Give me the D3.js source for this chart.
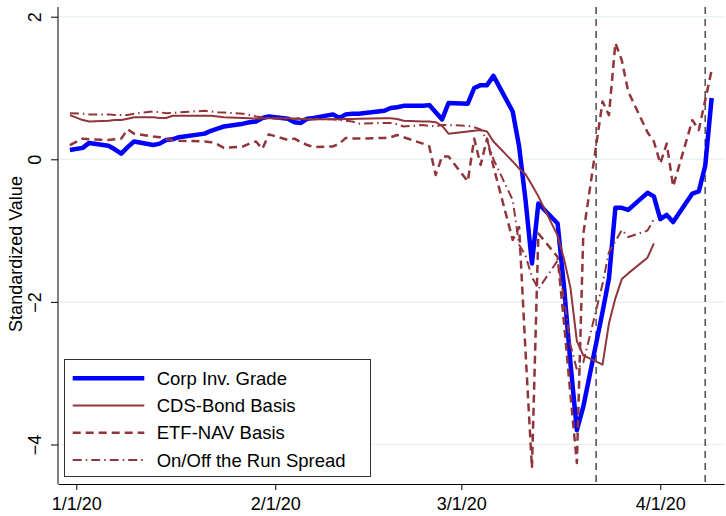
<!DOCTYPE html>
<html>
<head>
<meta charset="utf-8">
<script src="https://cdn.jsdelivr.net/npm/d3@7"></script>
<style>
  html, body { margin: 0; padding: 0; background: #fff; }
  svg { display: block; font-family: "Liberation Sans", Arial, sans-serif; }
</style>
</head>
<body>
<svg id="chart" width="726" height="516"></svg>
<script>
// trading days shown in the chart
const dates = [
  "2019-12-31",
  "2020-01-02","2020-01-03","2020-01-06","2020-01-07","2020-01-08","2020-01-09","2020-01-10",
  "2020-01-13","2020-01-14","2020-01-15","2020-01-16","2020-01-17","2020-01-21","2020-01-22",
  "2020-01-23","2020-01-24","2020-01-27","2020-01-28","2020-01-29","2020-01-30","2020-01-31",
  "2020-02-03","2020-02-04","2020-02-05","2020-02-06","2020-02-07","2020-02-10","2020-02-11",
  "2020-02-12","2020-02-13","2020-02-14","2020-02-18","2020-02-19","2020-02-20","2020-02-21",
  "2020-02-24","2020-02-25","2020-02-26","2020-02-27","2020-02-28",
  "2020-03-02","2020-03-03","2020-03-04","2020-03-05","2020-03-06","2020-03-09","2020-03-10",
  "2020-03-11","2020-03-12","2020-03-13","2020-03-16","2020-03-17","2020-03-18","2020-03-19",
  "2020-03-20","2020-03-23","2020-03-24","2020-03-25","2020-03-26","2020-03-27","2020-03-30",
  "2020-03-31",
  "2020-04-01","2020-04-02","2020-04-03","2020-04-06","2020-04-07","2020-04-08","2020-04-09"
];

const corpIG = [
  0.13,
  0.16,0.23,0.19,0.14,0.08,0.17,0.25,0.20,0.22,0.27,0.28,0.31,0.36,0.40,0.43,0.46,0.50,0.52,0.53,0.58,0.60,
  0.57,0.52,0.51,0.57,0.58,0.63,0.58,0.63,0.64,0.64,0.68,0.72,0.73,0.75,0.75,0.76,0.66,0.56,0.79,
  0.78,1.00,1.04,1.04,1.17,0.67,0.18,-0.57,-1.46,-0.62,-0.90,-1.79,-2.86,-3.80,-3.47,-2.14,-1.67,-0.68,-0.68,-0.71,-0.47,-0.52,
  -0.84,-0.78,-0.88,-0.48,-0.45,-0.09,0.86
];

const cdsBond = [
  0.62,
  0.55,0.53,0.54,0.55,0.55,0.57,0.59,0.59,0.58,0.58,0.61,0.61,0.61,0.61,0.60,0.59,0.58,0.575,0.57,0.575,0.575,
  0.575,0.57,0.565,0.56,0.56,0.56,0.56,0.565,0.565,0.57,0.575,0.575,0.565,0.54,0.53,0.53,0.52,0.47,0.36,
  0.39,0.40,0.41,0.39,0.25,-0.03,-0.13,-0.21,-0.36,-0.52,-1.07,-1.40,-1.80,-2.55,-2.75,-2.88,-2.30,-1.95,-1.68,-1.60,-1.38,-1.18,
  null,null,null,null,null,null,null
];

const etfNav = [
  0.20,
  0.29,0.28,0.27,0.28,0.29,0.42,0.36,0.32,0.31,0.28,0.27,0.26,0.25,0.24,0.21,0.16,0.18,0.22,0.25,0.145,0.35,
  0.27,0.29,0.24,0.20,0.17,0.18,0.22,0.30,0.29,0.29,0.30,0.31,0.34,0.31,0.22,0.18,-0.22,0.04,0.04,
  -0.31,0.29,-0.08,0.29,-0.10,-1.13,-0.95,-2.70,-4.33,-1.04,-1.37,-2.30,-3.30,-4.26,-1.05,0.81,0.62,1.63,1.39,0.95,0.38,0.25,
  -0.06,0.22,-0.38,0.55,0.41,0.83,1.25
];

const onOffRun = [
  0.645,
  0.64,0.63,0.63,0.62,0.62,0.62,0.64,0.67,0.66,0.645,0.65,0.66,0.68,0.67,0.66,0.655,0.64,0.62,0.60,0.59,0.58,
  0.56,0.57,0.58,0.57,0.56,0.56,0.55,0.54,0.53,0.50,0.51,0.51,0.49,0.46,0.48,0.47,0.46,0.48,0.48,
  0.47,0.45,0.42,0.27,0.00,-0.57,-1.20,-1.35,-1.65,-1.82,-1.42,-1.95,-2.60,-2.95,-2.85,-1.75,-1.30,-1.15,-0.99,-1.09,-1.00,-0.84,
  null,null,null,null,null,null,null
];

const seriesNames = ["Corp Inv. Grade", "CDS-Bond Basis", "ETF-NAV Basis", "On/Off the Run Spread"];
const xTickLabels = ["2020-01-01", "2020-02-01", "2020-03-01", "2020-04-01"];
const yTicks = [2, 0, -2, -4];
const markerDates = ["2020-03-22", "2020-04-08"];

const parse = d3.utcParse("%Y-%m-%d");
const fmt = d3.utcFormat("%-m/%-d/%y");

const svg = d3.select("#chart");
const plotLeft = 58, plotRight = 724, plotTop = 7, plotBottom = 484;

// Jan 1 and Apr 1 sit at fixed spots, then the scale is stretched to the frame
var x = d3.scaleUtc()
    .domain([parse("2020-01-01"), parse("2020-04-01")])
    .range([76.3, 660.3]);
x.domain([x.invert(plotLeft), x.invert(plotRight)]).range([plotLeft, plotRight]);

var y = d3.scaleLinear()
    .domain([2, -4])
    .range([16.7, 444.5]);

// grid
svg.append("g").selectAll("line")
    .data(yTicks)
    .enter().append("line")
      .attr("x1", plotLeft).attr("x2", plotRight)
      .attr("y1", d => y(d)).attr("y2", d => y(d))
      .attr("stroke", "#eaf2f3")
      .attr("stroke-width", 1.5);

// vertical event lines
svg.append("g").selectAll("line")
    .data(markerDates.map(parse))
    .enter().append("line")
      .attr("x1", d => x(d)).attr("x2", d => x(d))
      .attr("y1", plotTop).attr("y2", plotBottom)
      .attr("stroke", "#555")
      .attr("stroke-width", 1.6)
      .attr("stroke-dasharray", "7,5");

// axes
var xAxis = d3.axisBottom(x)
    .tickValues(xTickLabels.map(parse))
    .tickFormat(fmt)
    .tickSize(6)
    .tickSizeOuter(0);

var gx = svg.append("g")
    .attr("transform", "translate(0," + plotBottom + ")")
    .call(xAxis);
gx.select(".domain").attr("stroke", "#000");
gx.selectAll(".tick line").attr("stroke", "#000");
gx.selectAll(".tick text")
    .attr("y", 13)
    .attr("dy", "0.71em")
    .attr("fill", "#000")
    .style("font-size", "18px")
    .style("font-family", "Liberation Sans, Arial, sans-serif");

var gy = svg.append("g")
    .attr("transform", "translate(" + plotLeft + ",0)")
    .call(d3.axisLeft(y).tickValues(yTicks).tickSize(7).tickSizeOuter(0).tickFormat(d3.format("d")));
gy.select(".domain").attr("d", "M0," + plotTop + "V" + plotBottom);
gy.selectAll(".tick line").attr("stroke", "#000");
gy.selectAll(".tick text").remove();
gy.selectAll(".tick").append("text")
    .attr("transform", "translate(-17,0) rotate(-90)")
    .attr("text-anchor", "middle")
    .attr("fill", "#000")
    .style("font-size", "18px")
    .style("font-family", "Liberation Sans, Arial, sans-serif")
    .text(d => d3.format("d")(d));

svg.append("text")
    .attr("transform", "translate(21.5,254) rotate(-90)")
    .attr("text-anchor", "middle")
    .style("font-size", "18px")
    .text("Standardized Value");

// series
var maroon = "rgb(144,53,59)";
var styles = [
  { values: corpIG,   color: "rgb(0,0,255)", width: 4.5, dash: null },
  { values: cdsBond,  color: maroon, width: 2, dash: null },
  { values: etfNav,   color: maroon, width: 2.5, dash: "8,5" },
  { values: onOffRun, color: maroon, width: 2, dash: "9,4,1.5,4" }
];

var line = d3.line()
    .defined(d => d.v != null)
    .x(d => x(d.date))
    .y(d => y(d.v));

styles.forEach(function (s) {
  var pts = dates.map(function (d, i) { return { date: parse(d), v: s.values[i] }; });
  svg.append("path")
      .datum(pts)
      .attr("d", line)
      .attr("fill", "none")
      .attr("stroke", s.color)
      .attr("stroke-width", s.width)
      .attr("stroke-linejoin", "round")
      .attr("stroke-dasharray", s.dash);
});

// legend
var legend = svg.append("g");
legend.append("rect")
    .attr("x", 64.5).attr("y", 359.5)
    .attr("width", 306).attr("height", 117)
    .attr("fill", "#fff")
    .attr("stroke", "#333")
    .attr("stroke-width", 1);

var rowY = d3.scaleLinear().domain([0, 3]).range([378.3, 460]);
var items = legend.selectAll("g.item")
    .data(styles)
    .enter().append("g")
      .attr("class", "item")
      .attr("transform", (d, i) => "translate(0," + rowY(i) + ")");
items.append("line")
    .attr("x1", 72.7).attr("x2", 144.3)
    .attr("stroke", d => d.color)
    .attr("stroke-width", d => d.width)
    .attr("stroke-dasharray", d => d.dash);
items.append("text")
    .attr("x", 156.7)
    .attr("dy", "0.36em")
    .style("font-size", "18.5px")
    .text((d, i) => seriesNames[i]);
</script>
</body>
</html>
